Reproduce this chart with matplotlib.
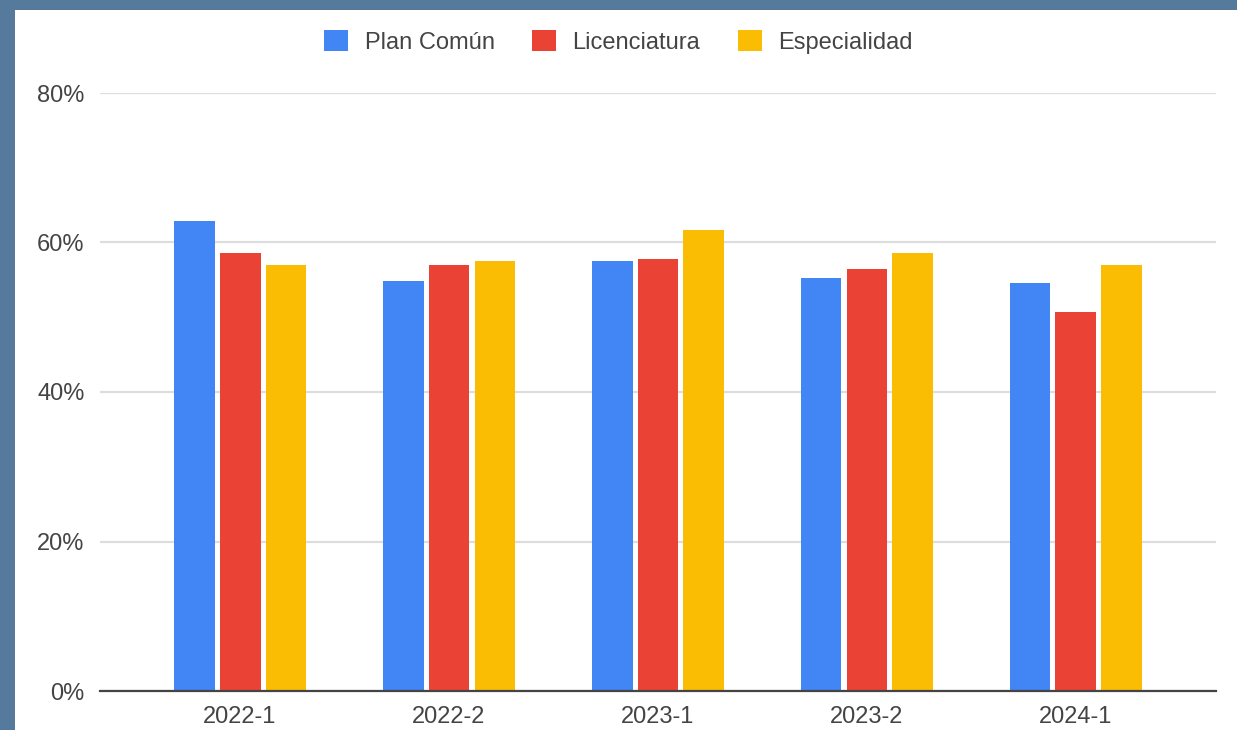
import numpy as np
import matplotlib.pyplot as plt
from matplotlib.patches import Rectangle
from matplotlib.ticker import PercentFormatter

plt.rcParams['font.family'] = ['Liberation Sans', 'DejaVu Sans']

semestres = ['2022-1', '2022-2', '2023-1', '2023-2', '2024-1']
plan_comun = [62.9, 54.8, 57.5, 55.3, 54.6]
licenciatura = [58.6, 57.0, 57.8, 56.5, 50.7]
especialidad = [57.0, 57.5, 61.7, 58.6, 57.0]

series = [('Plan Común', plan_comun, '#4285f4'),
          ('Licenciatura', licenciatura, '#ea4335'),
          ('Especialidad', especialidad, '#fbbc04')]

fig = plt.figure(figsize=(12.37, 7.3), dpi=100)
fig.patch.set_facecolor('#557a9c')
fig.patches.append(Rectangle((15 / 1237, 0), 1, 1 - 10 / 730, transform=fig.transFigure,
                             facecolor='white', edgecolor='none', zorder=-10))

ax = fig.add_axes([100 / 1237, 39 / 730, 1116 / 1237, 598 / 730])
ax.set_facecolor('none')
ax.set_zorder(2)

x = np.arange(len(semestres))
ancho = 0.196
paso = 0.22
handles = []
for i, (nombre, vals, color) in enumerate(series):
    b = ax.bar(x + (i - 1) * paso, vals, ancho, color=color, label=nombre, zorder=3)
    handles.append(b)

ax.set_xlim(-0.67, 4.67)
ax.set_ylim(0, 80)
ax.set_yticks([0, 20, 40, 60, 80])
ax.yaxis.set_major_formatter(PercentFormatter(decimals=0))
ax.set_xticks(x)
ax.set_xticklabels(semestres)
ax.grid(axis='y', color='#dddddd', linewidth=1.6, zorder=0)
for s in ['top', 'right', 'left']:
    ax.spines[s].set_visible(False)
ax.spines['bottom'].set_color('#444444')
ax.spines['bottom'].set_linewidth(1.6)
ax.spines['bottom'].set_zorder(4)
ax.tick_params(axis='both', length=0, labelsize=17, labelcolor='#444444')
ax.tick_params(axis='y', pad=11)
ax.tick_params(axis='x', pad=11)

fig.legend(handles=handles, loc='center', bbox_to_anchor=(0.5, 1 - 42 / 730),
           ncol=3, frameon=False, fontsize=17, labelcolor='#444444',
           handlelength=1.0, handleheight=1.0, handletextpad=0.7, columnspacing=1.6)

plt.savefig('out.png', dpi=100, facecolor=fig.get_facecolor())
